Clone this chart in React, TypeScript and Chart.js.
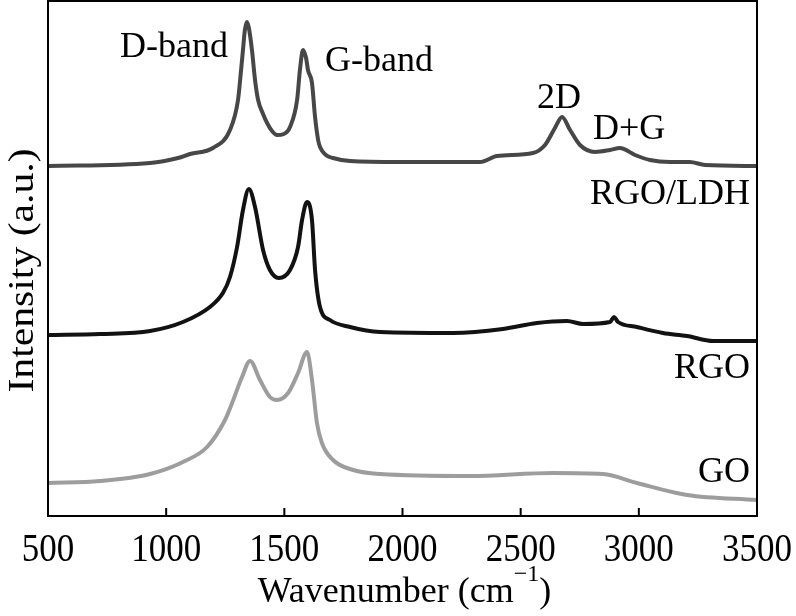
import React, { useEffect, useRef } from "react";
import { Chart, registerables } from "chart.js";

Chart.register(...registerables);

// ---- Data (Raman spectra, arbitrary intensity units) ----
const rgoLdhWavenumber = [500, 932, 1050, 1101, 1198, 1270, 1304, 1317, 1325, 1333, 1342, 1350, 1363, 1376, 1389, 1410, 1427, 1448, 1469, 1498, 1524, 1554, 1566, 1579, 1592, 1600, 1617, 1630, 1643, 1651, 1676, 1706, 1778, 1989, 2328, 2400, 2552, 2603, 2645, 2675, 2709, 2751, 2815, 2878, 2920, 2984, 3047, 3132, 3216, 3280, 3500];
const rgoLdhIntensity = [350, 353, 358, 362, 368, 386, 416, 446, 466, 486, 494, 488, 466, 436, 416, 402, 393, 385, 381, 382, 389, 416, 446, 466, 458, 446, 433, 399, 376, 369, 361, 358, 355, 354, 354, 360, 363, 371, 388, 399, 386, 371, 364, 366, 368, 361, 356, 354, 354, 351, 350];

const rgoWavenumber = [500, 720, 932, 1071, 1185, 1240, 1270, 1300, 1325, 1350, 1376, 1410, 1439, 1477, 1524, 1558, 1575, 1596, 1617, 1630, 1651, 1693, 1778, 1905, 2214, 2425, 2569, 2696, 2764, 2878, 2895, 2912, 2992, 3102, 3204, 3314, 3500];
const rgoIntensity = [181, 182, 185, 194, 209, 223, 239, 269, 306, 327, 309, 266, 246, 238, 246, 269, 296, 314, 296, 246, 209, 196, 189, 184, 183, 187, 193, 195, 192, 194, 199, 194, 189, 183, 180, 175, 175];

const goWavenumber = [500, 720, 932, 1071, 1173, 1249, 1279, 1321, 1355, 1397, 1439, 1469, 1516, 1558, 1596, 1617, 1638, 1659, 1706, 1791, 1905, 2286, 2637, 2848, 2992, 3204, 3500];
const goIntensity = [33, 35, 42, 54, 69, 96, 113, 139, 155, 136, 119, 116, 123, 143, 164, 136, 93, 73, 56, 46, 42, 40, 43, 42, 33, 21, 16];

const xTickValues = [500, 1000, 1500, 2000, 2500, 3000, 3500];
const seriesNames = ["RGO/LDH", "RGO", "GO"];
const bandLabels = ["D-band", "G-band", "2D", "D+G"];

const FONT = '"Liberation Serif", "Times New Roman", Times, serif';

const toPoints = (xs: number[], ys: number[]) => xs.map((x, i) => ({ x, y: ys[i] }));

const decorPlugin = {
  id: "decor",
  afterDraw(chart: any) {
    const { ctx, chartArea, scales } = chart;
    const xs = scales.x;
    ctx.save();
    // frame
    ctx.strokeStyle = "#000";
    ctx.lineWidth = 2;
    ctx.strokeRect(chartArea.left, chartArea.top, chartArea.right - chartArea.left, chartArea.bottom - chartArea.top);
    // inward ticks & labels
    ctx.fillStyle = "#000";
    ctx.textAlign = "center";
    ctx.textBaseline = "alphabetic";
    ctx.font = `35px ${FONT}`;
    xTickValues.forEach((v) => {
      const px = xs.getPixelForValue(v);
      if (v !== xTickValues[0] && v !== xTickValues[xTickValues.length - 1]) {
        ctx.beginPath();
        ctx.moveTo(px, chartArea.bottom);
        ctx.lineTo(px, chartArea.bottom - 8);
        ctx.stroke();
      }
      ctx.save();
      ctx.translate(px, 561);
      ctx.scale(1, 1.17);
      ctx.fillText(String(v), 0, 0);
      ctx.restore();
    });
    // x title with superscript
    const main = "Wavenumber (cm";
    const sup = "\u22121";
    const close = ")";
    ctx.font = `36px ${FONT}`;
    const wMain = ctx.measureText(main).width;
    const wClose = ctx.measureText(close).width;
    ctx.font = `24px ${FONT}`;
    const wSup = ctx.measureText(sup).width;
    const total = wMain + wSup + wClose;
    let sx = (chartArea.left + chartArea.right) / 2 + 2 - total / 2;
    ctx.textAlign = "left";
    ctx.font = `36px ${FONT}`;
    ctx.fillText(main, sx, 602);
    sx += wMain;
    ctx.font = `24px ${FONT}`;
    ctx.fillText(sup, sx, 581);
    sx += wSup;
    ctx.font = `36px ${FONT}`;
    ctx.fillText(close, sx, 602);
    // y title
    ctx.save();
    ctx.translate(33, 270.5);
    ctx.rotate(-Math.PI / 2);
    ctx.scale(1.19, 1);
    ctx.textAlign = "center";
    ctx.font = `35px ${FONT}`;
    ctx.fillText("Intensity (a.u.)", 0, 0);
    ctx.restore();
    // band annotations
    ctx.font = `36px ${FONT}`;
    ctx.textAlign = "left";
    ctx.fillText(bandLabels[0], 120, 57);
    ctx.fillText(bandLabels[1], 325, 71);
    ctx.fillText(bandLabels[2], 537, 108);
    ctx.fillText(bandLabels[3], 593, 139);
    // series names
    ctx.textAlign = "right";
    ctx.fillText(seriesNames[0], 750, 204);
    ctx.fillText(seriesNames[1], 750, 378);
    ctx.fillText(seriesNames[2], 750, 482);
    ctx.restore();
  },
};

export default function App() {
  const canvasRef = useRef<HTMLCanvasElement | null>(null);

  useEffect(() => {
    document.body.style.margin = "0";
    const canvas = canvasRef.current;
    if (!canvas) return;
    const lineCommon = {
      pointRadius: 0,
      borderWidth: 4,
      cubicInterpolationMode: "monotone" as const,
      fill: false,
    };
    const chart = new Chart(canvas, {
      type: "line",
      data: {
        datasets: [
          { ...lineCommon, label: seriesNames[0], data: toPoints(rgoLdhWavenumber, rgoLdhIntensity), borderColor: "#474747" },
          { ...lineCommon, label: seriesNames[1], data: toPoints(rgoWavenumber, rgoIntensity), borderColor: "#121212" },
          { ...lineCommon, label: seriesNames[2], data: toPoints(goWavenumber, goIntensity), borderColor: "#9d9d9d" },
        ],
      },
      options: {
        animation: false,
        responsive: false,
        devicePixelRatio: 1,
        layout: { padding: { top: 1, right: 39, left: 0, bottom: 0 } },
        plugins: { legend: { display: false }, tooltip: { enabled: false } },
        scales: {
          x: {
            type: "linear",
            min: 500,
            max: 3500,
            ticks: { display: false, stepSize: 500 },
            grid: { display: false },
            border: { display: false },
            afterFit: (s: any) => { s.height = 100; },
          },
          y: {
            type: "linear",
            min: 0,
            max: 515,
            ticks: { display: false },
            grid: { display: false },
            border: { display: false },
            afterFit: (s: any) => { s.width = 48; },
          },
        },
      },
      plugins: [decorPlugin],
    });
    return () => chart.destroy();
  }, []);

  return (
    <div style={{ width: 796, height: 616, background: "#fff" }}>
      <canvas ref={canvasRef} width={796} height={616} style={{ display: "block" }} />
    </div>
  );
}
